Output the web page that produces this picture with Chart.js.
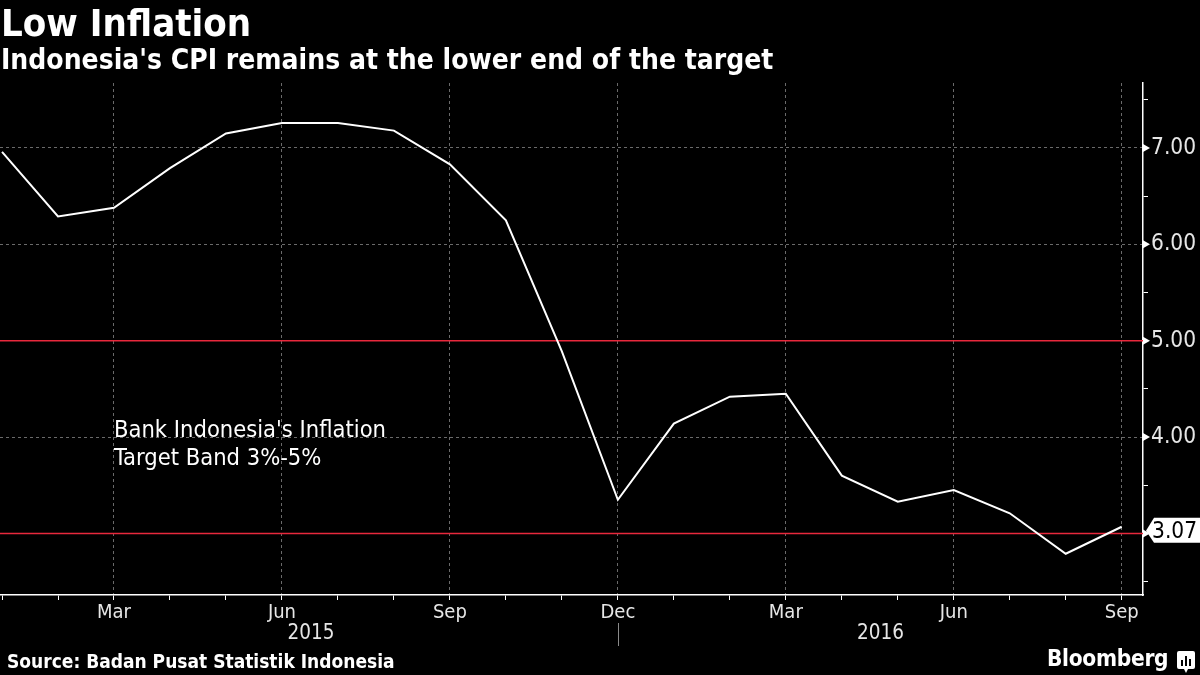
<!DOCTYPE html>
<html>
<head>
<meta charset="utf-8">
<script src="https://cdn.jsdelivr.net/npm/chart.js@4.4.0/dist/chart.umd.min.js"></script>
<style>
html,body{margin:0;padding:0;background:#000;}
body{width:1200px;height:675px;position:relative;overflow:hidden;font-family:'DejaVu Sans Condensed','DejaVu Sans',sans-serif;color:#fff;}
#wrap{position:absolute;left:0;top:0;width:1200px;height:675px;}
.t{position:absolute;white-space:nowrap;}
#title{left:1px;top:1px;font-size:38px;font-weight:bold;}
#sub{left:1px;top:43px;font-size:28px;font-weight:bold;}
#src{left:7px;top:650px;font-size:19px;font-weight:bold;}
#note{left:114px;top:415px;font-size:23.5px;line-height:28px;color:#fff;}
#logo{left:1047px;top:645px;font-size:22.5px;font-weight:bold;letter-spacing:-0.3px;}
#icon{position:absolute;left:1176px;top:650px;}
</style>
</head>
<body>
<div id="wrap"><canvas id="c" width="1200" height="675"></canvas></div>
<div class="t" id="title">Low Inflation</div>
<div class="t" id="sub">Indonesia's CPI remains at the lower end of the target</div>
<div class="t" id="note">Bank Indonesia's Inflation<br>Target Band 3%-5%</div>
<div class="t" id="src">Source: Badan Pusat Statistik Indonesia</div>
<div class="t" id="logo">Bloomberg</div>
<svg id="icon" width="20" height="24" viewBox="0 0 20 24">
  <path d="M3 1 H17 Q19 1 19 3 V17 Q19 19 17 19 H12 L10 23 L8 19 H3 Q1 19 1 17 V3 Q1 1 3 1 Z" fill="#fff"/>
  <rect x="5" y="10" width="2" height="6" fill="#000"/>
  <rect x="9" y="6" width="2" height="10" fill="#000"/>
  <rect x="13" y="9" width="2" height="7" fill="#000"/>
</svg>
<script>
// ---- data ----
const monthLabels = ['Jan','Feb','Mar','Apr','May','Jun','Jul','Aug','Sep','Oct','Nov','Dec',
                     'Jan','Feb','Mar','Apr','May','Jun','Jul','Aug','Sep'];
const cpiValues = [6.96,6.29,6.38,6.79,7.15,7.26,7.26,7.18,6.83,6.25,4.89,3.35,
                   4.14,4.42,4.45,3.60,3.33,3.45,3.21,2.79,3.07];
const targetBand = [3, 5];
const yTickValues = [2.5,3,3.5,4,4.5,5,5.5,6,6.5,7,7.5];
const yearLabels = ['2015','2016'];
const yearBreakIndex = 11; // Dec 2015 separator
const lastValueLabel = '3.07';

const xMin = -0.036, xMax = 20.38;
const yMin = 2.362, yMax = 7.674;
const FONT = "'DejaVu Sans Condensed','DejaVu Sans',sans-serif";

const cpiData = cpiValues.map((v,i)=>({x:i,y:v}));
const bandSets = targetBand.map(v=>({
  data:[{x:xMin,y:v},{x:xMax,y:v}],
  borderColor:'#e8283c', borderWidth:1.5, pointRadius:0, order:1, tension:0
}));

const isQuarter = i => (i % 3) === 2;

const extras = {
  id:'extras',
  afterDraw(chart){
    const {ctx, scales:{x,y}, chartArea} = chart;
    ctx.save();
    // triangles at major y ticks
    ctx.fillStyle = '#fff';
    yTickValues.filter(v=>Number.isInteger(v)).forEach(v=>{
      const py = y.getPixelForValue(v);
      ctx.beginPath();
      ctx.moveTo(chartArea.right, py-4);
      ctx.lineTo(chartArea.right+7, py);
      ctx.lineTo(chartArea.right, py+4);
      ctx.closePath();
      ctx.fill();
    });
    // year separator & labels
    const sepX = x.getPixelForValue(yearBreakIndex);
    ctx.strokeStyle = '#8a8a8a'; ctx.lineWidth = 1;
    ctx.beginPath(); ctx.moveTo(Math.round(sepX)+0.5, 623); ctx.lineTo(Math.round(sepX)+0.5, 646); ctx.stroke();
    ctx.fillStyle = '#e6e6e6';
    ctx.font = '20.5px ' + FONT;
    ctx.textAlign = 'center'; ctx.textBaseline = 'middle';
    ctx.fillText(yearLabels[0], (chartArea.left + sepX)/2 + 2, 634);
    ctx.fillText(yearLabels[1], (sepX + chartArea.right)/2, 634);
    // last value box
    const ly = y.getPixelForValue(cpiValues[cpiValues.length-1]) + 4;
    const bx = chartArea.right + 3;
    ctx.fillStyle = '#fff';
    ctx.beginPath();
    ctx.moveTo(bx, ly);
    ctx.lineTo(bx+8, ly-13);
    ctx.lineTo(1200, ly-13);
    ctx.lineTo(1200, ly+12);
    ctx.lineTo(bx+8, ly+12);
    ctx.closePath();
    ctx.fill();
    ctx.fillStyle = '#000';
    ctx.textAlign = 'left';
    ctx.font = '22.5px ' + FONT;
    ctx.fillText(lastValueLabel, bx+6, ly+1);
    ctx.restore();
  }
};

new Chart(document.getElementById('c'), {
  type:'line',
  data:{
    datasets:[
      {data:cpiData, borderColor:'#ffffff', borderWidth:2, pointRadius:0, order:0, tension:0},
      ...bandSets
    ]
  },
  options:{
    responsive:false, animation:false,
    layout:{padding:{top:83,left:0,right:0,bottom:0}},
    plugins:{legend:{display:false}, tooltip:{enabled:false}},
    scales:{
      x:{
        type:'linear', min:xMin, max:xMax,
        afterBuildTicks: s => { s.ticks = monthLabels.map((m,i)=>({value:i})); },
        afterFit: s => { s.height = 80; },
        ticks:{
          autoSkip:false, maxRotation:0, padding:1,
          color:'#e6e6e6', font:{family:FONT, size:20},
          callback:(v)=> isQuarter(v) ? monthLabels[v] : ''
        },
        grid:{
          color: c => (c.tick && isQuarter(c.tick.value)) ? '#6a6a6a' : 'rgba(0,0,0,0)',
          lineWidth:1, tickColor:'#ffffff', tickLength:5, tickWidth:1
        },
        border:{display:true, color:'#ffffff', width:1.5, dash:[3,3]}
      },
      y:{
        type:'linear', position:'right', min:yMin, max:yMax,
        afterBuildTicks: s => { s.ticks = yTickValues.map(v=>({value:v})); },
        afterFit: s => { s.width = 57; },
        ticks:{
          padding:3, crossAlign:'near',
          color:'#e6e6e6', font:{family:FONT, size:22.5},
          callback:(v)=> Number.isInteger(v) ? v.toFixed(2) : ''
        },
        grid:{
          color: c => (c.tick && Number.isInteger(c.tick.value)) ? '#6a6a6a' : 'rgba(0,0,0,0)',
          lineWidth:1,
          tickColor: c => (c.tick && Number.isInteger(c.tick.value)) ? 'rgba(0,0,0,0)' : '#ffffff',
          tickLength:5, tickWidth:1
        },
        border:{display:true, color:'#ffffff', width:1.5, dash:[3,3]}
      }
    }
  },
  plugins:[extras]
});
</script>
</body>
</html>
